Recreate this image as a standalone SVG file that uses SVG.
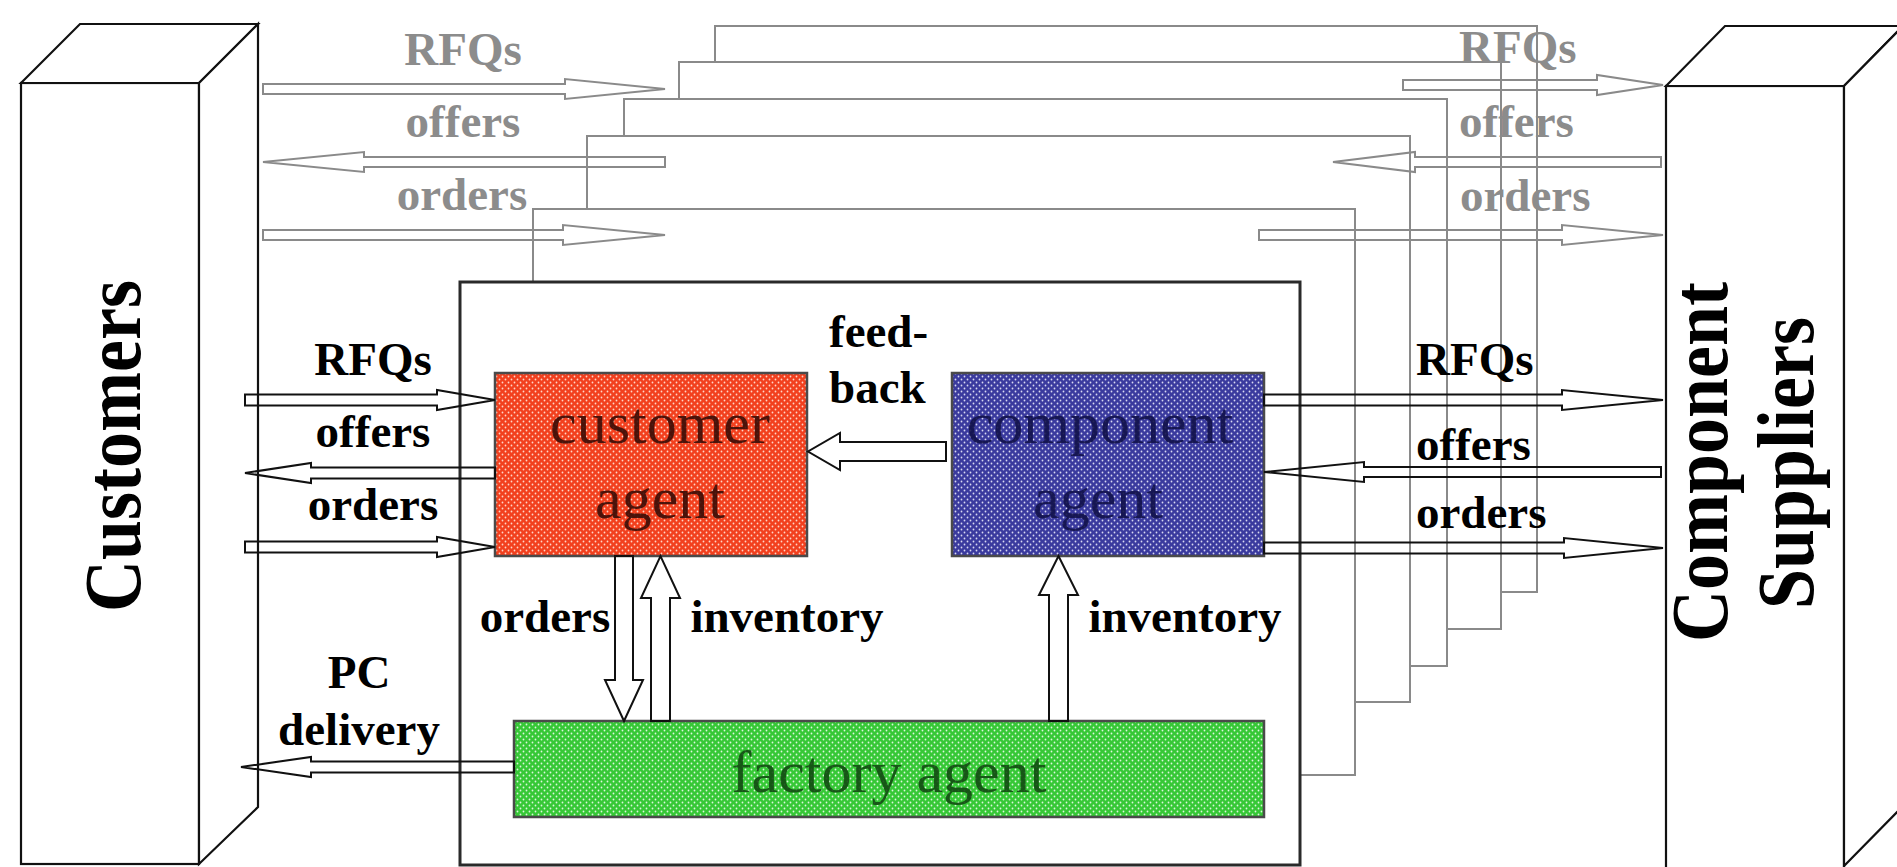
<svg xmlns="http://www.w3.org/2000/svg" width="1897" height="867" viewBox="0 0 1897 867">
<style>
.frame{fill:#fff;stroke:#8a8a8a;stroke-width:2}
.box3d{fill:#fff;stroke:#111;stroke-width:2.2;stroke-linejoin:miter}
.main{fill:#fff;stroke:#2a2a2a;stroke-width:3}
.agent{stroke:#4a4a4a;stroke-width:2.5}
.arr{fill:none;stroke:#111;stroke-width:2;stroke-linejoin:miter}
.garr{fill:none;stroke:#8a8a8a;stroke-width:2;stroke-linejoin:miter}
.lbl{font-family:"Liberation Serif","Times New Roman",serif;font-weight:bold;font-size:47px;fill:#000}
.glbl{font-family:"Liberation Serif","Times New Roman",serif;font-weight:bold;font-size:47px;fill:#8c8c8c}
.big{font-family:"Liberation Serif","Times New Roman",serif;font-weight:bold;font-size:72px;fill:#000;text-anchor:middle}
.atxt{font-family:"Liberation Serif","Times New Roman",serif;font-size:60px;text-anchor:middle}
</style>
<defs>
<pattern id="pRed" width="6" height="6" patternUnits="userSpaceOnUse"><rect width="6" height="6" fill="#f2401e"/><circle cx="1.5" cy="1.5" r="0.9" fill="#ffd6c8"/><circle cx="4.5" cy="4.5" r="0.9" fill="#ffd6c8"/></pattern>
<pattern id="pBlue" width="6" height="6" patternUnits="userSpaceOnUse"><rect width="6" height="6" fill="#3a3a9e"/><circle cx="1.5" cy="1.5" r="0.9" fill="#d8d8f2"/><circle cx="4.5" cy="4.5" r="0.9" fill="#d8d8f2"/></pattern>
<pattern id="pGreen" width="6" height="6" patternUnits="userSpaceOnUse"><rect width="6" height="6" fill="#36c836"/><circle cx="1.5" cy="1.5" r="0.9" fill="#dcf6dc"/><circle cx="4.5" cy="4.5" r="0.9" fill="#dcf6dc"/></pattern>
</defs>
<rect width="1897" height="867" fill="#fff"/>

<g id="stacked-frames">
<rect class="frame" x="715" y="26" width="822" height="566"/>
<rect class="frame" x="679" y="62" width="822" height="567"/>
<rect class="frame" x="624" y="99" width="823" height="567"/>
<rect class="frame" x="587" y="136" width="823" height="566"/>
<rect class="frame" x="533" y="209" width="822" height="566"/>
</g>

<g id="main-box"><rect class="main" x="460" y="282" width="840" height="583"/></g>

<g id="customers">
<rect class="box3d" x="21" y="83" width="178" height="781"/>
<polygon class="box3d" points="21,83 80,24 258,24 199,83"/>
<polygon class="box3d" points="199,83 258,24 258,807 199,864"/>
<text class="big" transform="translate(140,446) rotate(-90) scale(1,1.12)">Customers</text>
</g>

<g id="component-suppliers">
<rect class="box3d" x="1666" y="86" width="178" height="790"/>
<polygon class="box3d" points="1666,86 1725,26 1903,26 1844,86"/>
<polygon class="box3d" points="1844,86 1903,26 1903,806 1844,866"/>
<text class="big" transform="translate(1727,462) rotate(-90) scale(1,1.12)">Component</text>
<text class="big" transform="translate(1813,463) rotate(-90) scale(1,1.12)">Suppliers</text>
</g>

<g id="customer-agent">
<rect class="agent" x="495" y="373" width="312" height="183" fill="url(#pRed)"/>
<text class="atxt" x="660" y="443" fill="#3a0c06" fill-opacity="0.9">customer</text>
<text class="atxt" x="660" y="518" fill="#3a0c06" fill-opacity="0.9">agent</text>
</g>

<g id="component-agent">
<rect class="agent" x="952" y="373" width="312" height="183" fill="url(#pBlue)"/>
<text class="atxt" x="1100" y="443" fill="#12124a" fill-opacity="0.9">component</text>
<text class="atxt" x="1098" y="518" fill="#12124a" fill-opacity="0.9">agent</text>
</g>

<g id="factory-agent">
<rect class="agent" x="514" y="721" width="750" height="96" fill="url(#pGreen)"/>
<text class="atxt" x="889" y="792" fill="#124a12" fill-opacity="0.9">factory agent</text>
</g>

<g id="connectors">
<!-- grey outer arrows, left -->
<polygon class="garr" points="263,84 565,84 565,79 665,89 565,99 565,94 263,94"/>
<polygon class="garr" points="665,157 364,157 364,152 263,162 364,172 364,167 665,167"/>
<polygon class="garr" points="263,230 563,230 563,225 665,235 563,245 563,240 263,240"/>
<!-- grey outer arrows, right -->
<polygon class="garr" points="1403,80 1597,80 1597,75 1663,85 1597,95 1597,90 1403,90"/>
<polygon class="garr" points="1661,157 1415,157 1415,152 1333,162 1415,172 1415,167 1661,167"/>
<polygon class="garr" points="1259,230 1562,230 1562,225 1663,235 1562,245 1562,240 1259,240"/>
<!-- customers <-> customer agent -->
<polygon class="arr" points="245,394.5 437,394.5 437,390 495,400 437,410 437,405.5 245,405.5"/>
<polygon class="arr" points="495,467.5 311,467.5 311,463 245,473 311,483 311,478.5 495,478.5"/>
<polygon class="arr" points="245,541.5 437,541.5 437,537 495,547 437,557 437,552.5 245,552.5"/>
<!-- PC delivery -->
<polygon class="arr" points="514,761.5 311,761.5 311,757 241,767 311,777 311,772.5 514,772.5"/>
<!-- component agent <-> suppliers -->
<polygon class="arr" points="1264,394.5 1562,394.5 1562,390 1663,400 1562,410 1562,405.5 1264,405.5"/>
<polygon class="arr" points="1661,467 1364,467 1364,462 1264,472 1364,482 1364,477 1661,477"/>
<polygon class="arr" points="1264,542.5 1564,542.5 1564,538 1663,548 1564,558 1564,553.5 1264,553.5"/>
<!-- feedback -->
<polygon class="arr" points="946,442 840,442 840,433 808,451.5 840,470 840,461 946,461"/>
<!-- orders down -->
<polygon class="arr" points="615,556 633,556 633,680 643,680 624,721 605,680 615,680"/>
<!-- inventory up left -->
<polygon class="arr" points="651,721 670,721 670,598 680,598 660.5,556 641,598 651,598"/>
<!-- inventory up right -->
<polygon class="arr" points="1049,721 1068,721 1068,595 1078,595 1058.5,556 1039,595 1049,595"/>
</g>

<g id="labels">
<text class="glbl" x="463" y="65" text-anchor="middle">RFQs</text>
<text class="glbl" x="463" y="137" text-anchor="middle">offers</text>
<text class="glbl" x="462" y="210" text-anchor="middle">orders</text>
<text class="glbl" x="1459" y="63">RFQs</text>
<text class="glbl" x="1459" y="137">offers</text>
<text class="glbl" x="1460" y="211">orders</text>
<text class="lbl" x="373" y="375" text-anchor="middle">RFQs</text>
<text class="lbl" x="373" y="447" text-anchor="middle">offers</text>
<text class="lbl" x="373" y="520" text-anchor="middle">orders</text>
<text class="lbl" x="1416" y="375">RFQs</text>
<text class="lbl" x="1416" y="460">offers</text>
<text class="lbl" x="1416" y="528">orders</text>
<text class="lbl" x="829" y="347">feed-</text>
<text class="lbl" x="829" y="403">back</text>
<text class="lbl" x="545" y="632" text-anchor="middle">orders</text>
<text class="lbl" x="787" y="632" text-anchor="middle">inventory</text>
<text class="lbl" x="1185" y="632" text-anchor="middle">inventory</text>
<text class="lbl" x="359" y="688" text-anchor="middle">PC</text>
<text class="lbl" x="359" y="745" text-anchor="middle">delivery</text>
</g>
</svg>
